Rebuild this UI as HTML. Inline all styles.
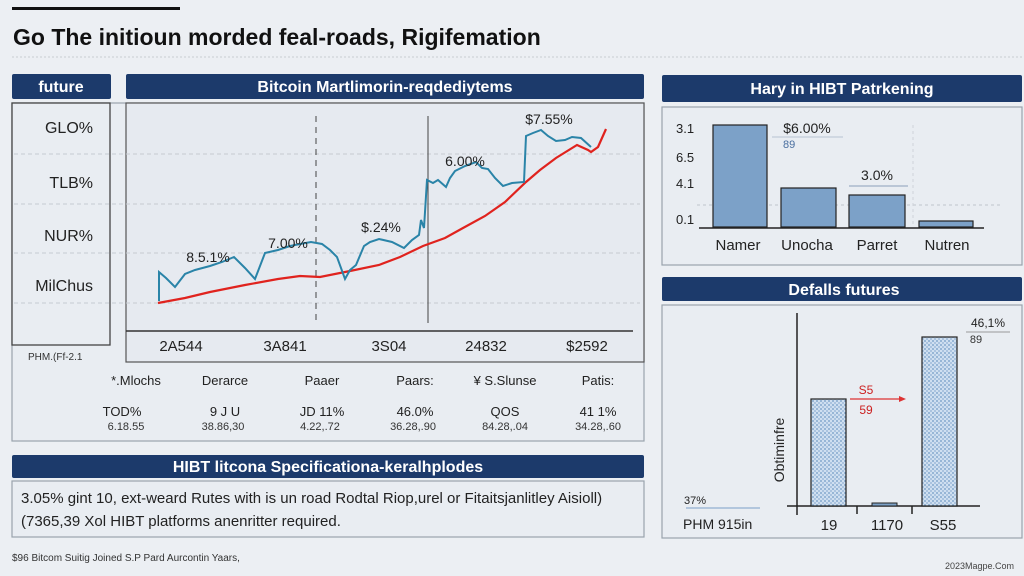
<!DOCTYPE html>
<html><head><meta charset="utf-8"><style>
html,body{margin:0;padding:0;background:#eceff3;}
svg{display:block;font-family:"Liberation Sans",sans-serif;}
</style></head><body>
<svg width="1024" height="576" viewBox="0 0 1024 576" xmlns="http://www.w3.org/2000/svg">
<defs>
<pattern id="dots" width="4" height="4" patternUnits="userSpaceOnUse">
<rect width="4" height="4" fill="#cfdff0"/><circle cx="1" cy="1" r="0.9" fill="#6f98c4"/><circle cx="3" cy="3" r="0.9" fill="#8fb0d3"/>
</pattern>
</defs>
<rect width="1024" height="576" fill="#eceff3"/>
<rect x="12" y="7" width="168" height="3" fill="#111"/>
<text x="13" y="45" font-size="23" font-weight="bold" fill="#111">Go The initioun morded feal-roads, Rigifemation</text>
<line x1="12" y1="57" x2="1022" y2="57" stroke="#c8ccd2" stroke-dasharray="2,2"/>

<rect x="12" y="74" width="99" height="25" rx="2" fill="#1c3a6b"/>
<text x="61" y="92" font-size="16" font-weight="bold" fill="#fff" text-anchor="middle">future</text>
<rect x="126" y="74" width="518" height="25" rx="2" fill="#1c3a6b"/>
<text x="385" y="92" font-size="16" font-weight="bold" fill="#fff" text-anchor="middle">Bitcoin Martlimorin-reqdediytems</text>

<rect x="12" y="103" width="632" height="338" fill="#e9edf2" stroke="#9aa3ad" stroke-width="1.2"/>
<rect x="12" y="103" width="98" height="242" fill="#e9edf2" stroke="#444" stroke-width="1.3"/>
<rect x="126" y="103" width="518" height="259" fill="#e6eaf0" stroke="#555" stroke-width="1.2"/>
<g stroke="#c5cad1" stroke-dasharray="4,3">
<line x1="14" y1="154" x2="640" y2="154"/><line x1="14" y1="204" x2="640" y2="204"/>
<line x1="14" y1="253" x2="640" y2="253"/><line x1="14" y1="303" x2="640" y2="303"/>
</g>
<line x1="126" y1="331" x2="633" y2="331" stroke="#333" stroke-width="1.5"/>
<line x1="316" y1="116" x2="316" y2="323" stroke="#444" stroke-dasharray="6,5"/>
<line x1="428" y1="116" x2="428" y2="323" stroke="#444"/>
<g font-size="16" fill="#222" text-anchor="end">
<text x="93" y="133">GLO%</text><text x="93" y="188">TLB%</text><text x="93" y="241">NUR%</text><text x="93" y="291">MilChus</text>
</g>
<text x="28" y="360" font-size="10" fill="#333">PHM.(Ff-2.1</text>
<polyline fill="none" stroke="#e0231e" stroke-width="2.2" points="158,303 185,298 210,292 245,285 278,279 300,276 320,277 350,271 379,265 400,257 423,246 445,238 463,228 485,216 505,202 526,182 540,170 556,158 577,145 588,150 591,152 598,147 606,129"/>
<polyline fill="none" stroke="#2a84a8" stroke-width="2" points="159,301 159,272 166,278 175,287 185,274 195,270 210,266 222,262 234,257 245,268 255,279 265,253 278,250 290,246 300,244 311,242 322,244 330,250 337,257 345,279 350,270 356,265 364,246 370,242 379,239 392,242 404,248 412,240 419,235 421,220 424,228 427,180 433,183 438,180 446,187 450,178 455,171 465,166 476,162 482,168 488,169 495,178 503,186 512,183 524,182 526,136 533,133 541,130 548,136 556,141 565,140 572,137 581,138 591,147"/>
<g font-size="14" fill="#222" text-anchor="middle">
<text x="208" y="262">8.5.1%</text><text x="288" y="248">7.00%</text><text x="381" y="232">$.24%</text><text x="465" y="166">6.00%</text><text x="549" y="124">$7.55%</text>
</g>
<g font-size="15" fill="#222" text-anchor="middle">
<text x="181" y="351">2A544</text><text x="285" y="351">3A841</text><text x="389" y="351">3S04</text><text x="486" y="351">24832</text><text x="587" y="351">$2592</text>
</g>
<g font-size="13" fill="#222" text-anchor="middle">
<text x="136" y="385">*.Mlochs</text><text x="225" y="385">Derarce</text><text x="322" y="385">Paaer</text><text x="415" y="385">Paars:</text><text x="505" y="385">¥ S.Slunse</text><text x="598" y="385">Patis:</text>
<text x="122" y="416">TOD%</text><text x="225" y="416">9 J U</text><text x="322" y="416">JD 11%</text><text x="415" y="416">46.0%</text><text x="505" y="416">QOS</text><text x="598" y="416">41 1%</text>
</g>
<g font-size="11" fill="#333" text-anchor="middle">
<text x="126" y="430">6.18.55</text><text x="223" y="430">38.86,30</text><text x="320" y="430">4.22,.72</text><text x="413" y="430">36.28,.90</text><text x="505" y="430">84.28,.04</text><text x="598" y="430">34.28,.60</text>
</g>

<rect x="12" y="455" width="632" height="23" rx="2" fill="#1c3a6b"/>
<text x="328" y="472" font-size="16" font-weight="bold" fill="#fff" text-anchor="middle">HIBT litcona Specificationa-keralhplodes</text>
<rect x="12" y="481" width="632" height="56" fill="#e9edf2" stroke="#9aa3ad" stroke-width="1.2"/>
<text x="21" y="503" font-size="15" fill="#222">3.05% gint 10, ext-weard Rutes with is un road Rodtal Riop,urel or Fitaitsjanlitley Aisioll)</text>
<text x="21" y="526" font-size="15" fill="#222">(7365,39 Xol HIBT platforms anenritter required.</text>
<text x="12" y="561" font-size="10" fill="#333">$96 Bitcom Suitig Joined S.P Pard Aurcontin Yaars,</text>

<rect x="662" y="75" width="360" height="27" rx="2" fill="#1c3a6b"/>
<text x="842" y="94" font-size="16" font-weight="bold" fill="#fff" text-anchor="middle">Hary in HIBT Patrkening</text>
<rect x="662" y="107" width="360" height="158" fill="#e9edf2" stroke="#9aa3ad" stroke-width="1.2"/>
<line x1="697" y1="205" x2="1000" y2="205" stroke="#c0c5cc" stroke-dasharray="3,3"/>
<line x1="913" y1="125" x2="913" y2="227" stroke="#d0d4da" stroke-dasharray="3,3"/>
<rect x="713" y="125" width="54" height="102" fill="#7ca1c8" stroke="#222" stroke-width="1.2"/>
<rect x="781" y="188" width="55" height="39" fill="#7ca1c8" stroke="#222" stroke-width="1.2"/>
<rect x="849" y="195" width="56" height="32" fill="#7ca1c8" stroke="#222" stroke-width="1.2"/>
<rect x="919" y="221" width="54" height="6" fill="#7ca1c8" stroke="#222" stroke-width="1.2"/>
<line x1="699" y1="228" x2="984" y2="228" stroke="#222" stroke-width="1.5"/>
<g font-size="13" fill="#222"><text x="676" y="133">3.1</text><text x="676" y="162">6.5</text><text x="676" y="188">4.1</text><text x="676" y="224">0.1</text></g>
<line x1="772" y1="137" x2="843" y2="137" stroke="#b8c4d2"/>
<text x="807" y="133" font-size="14" fill="#222" text-anchor="middle">$6.00%</text>
<text x="783" y="148" font-size="11" fill="#4a6fa0">89</text>
<line x1="849" y1="186" x2="908" y2="186" stroke="#8aa0bb"/>
<text x="877" y="180" font-size="14" fill="#222" text-anchor="middle">3.0%</text>
<g font-size="15" fill="#222" text-anchor="middle">
<text x="738" y="250">Namer</text><text x="807" y="250">Unocha</text><text x="877" y="250">Parret</text><text x="947" y="250">Nutren</text>
</g>

<rect x="662" y="277" width="360" height="24" rx="2" fill="#1c3a6b"/>
<text x="844" y="295" font-size="16" font-weight="bold" fill="#fff" text-anchor="middle">Defalls futures</text>
<rect x="662" y="305" width="360" height="233" fill="#e9edf2" stroke="#9aa3ad" stroke-width="1.2"/>
<line x1="797" y1="313" x2="797" y2="515" stroke="#222" stroke-width="1.5"/>
<line x1="787" y1="506" x2="980" y2="506" stroke="#222" stroke-width="1.5"/>
<line x1="857" y1="506" x2="857" y2="514" stroke="#222" stroke-width="1.5"/>
<line x1="912" y1="506" x2="912" y2="514" stroke="#222" stroke-width="1.5"/>
<rect x="811" y="399" width="35" height="107" fill="url(#dots)" stroke="#222" stroke-width="1.2"/>
<rect x="872" y="503" width="25" height="3" fill="#7ca1c8" stroke="#222"/>
<rect x="922" y="337" width="35" height="169" fill="url(#dots)" stroke="#222" stroke-width="1.2"/>
<text transform="translate(784,450) rotate(-90)" font-size="14" fill="#222" text-anchor="middle">Obtiminfre</text>
<line x1="850" y1="399" x2="902" y2="399" stroke="#d33" stroke-width="1.2"/>
<polygon points="906,399 899,396 899,402" fill="#d33"/>
<text x="866" y="394" font-size="12" fill="#c22" text-anchor="middle">S5</text>
<text x="866" y="414" font-size="12" fill="#c22" text-anchor="middle">59</text>
<text x="988" y="327" font-size="12" fill="#222" text-anchor="middle">46,1%</text>
<line x1="966" y1="332" x2="1010" y2="332" stroke="#999"/>
<text x="976" y="343" font-size="11" fill="#333" text-anchor="middle">89</text>
<text x="684" y="504" font-size="11" fill="#222">37%</text>
<line x1="686" y1="508" x2="760" y2="508" stroke="#7aa0c8"/>
<text x="683" y="529" font-size="14" fill="#222">PHM 915in</text>
<g font-size="15" fill="#222" text-anchor="middle"><text x="829" y="530">19</text><text x="887" y="530">1170</text><text x="943" y="530">S55</text></g>
<text x="1014" y="569" font-size="9" fill="#444" text-anchor="end">2023Magpe.Com</text>
</svg>
</body></html>
